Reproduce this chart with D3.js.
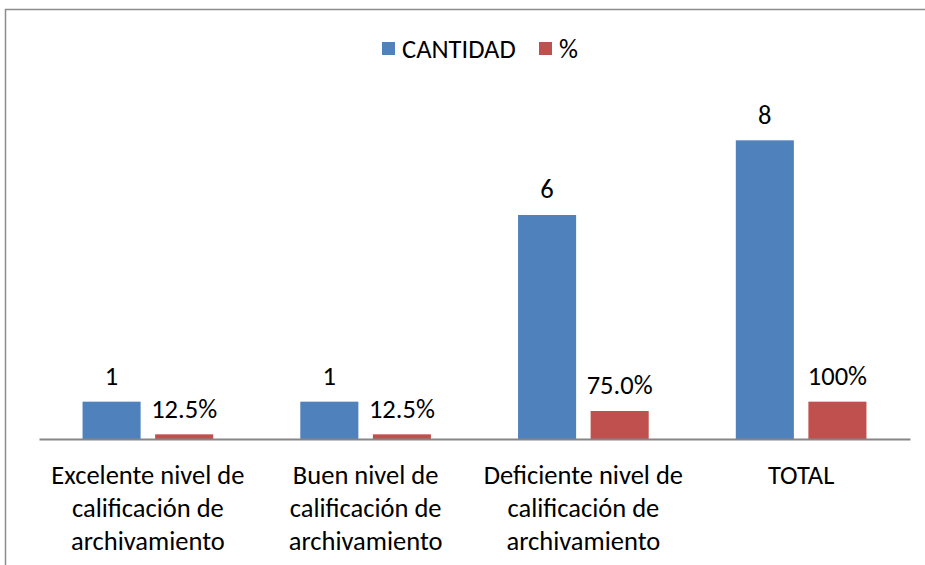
<!DOCTYPE html>
<html><head><meta charset="utf-8">
<script src="https://cdn.jsdelivr.net/npm/d3@7"></script>
<style>body{margin:0;background:#fff}svg{display:block}text{font-family:Carlito,Calibri,Lato,sans-serif;fill:#000}</style>
</head><body>
<script>
const categories = [["Excelente nivel de","calificación de","archivamiento"],["Buen nivel de","calificación de","archivamiento"],["Deficiente nivel de","calificación de","archivamiento"],["TOTAL"]];
const seriesNames = ["CANTIDAD","%"];
const cantidad = [1,1,6,8];
const porcentaje = [0.125,0.125,0.75,1];
const pctLabels = ["12.5%","12.5%","75.0%","100%"];
const colors = ["#4F81BD","#C0504D"];

const W=925,H=565, FS=26.5;
const svg=d3.select("body").append("svg").attr("width",W).attr("height",H);
svg.append("rect").attr("x",5.5).attr("y",9.5).attr("width",W).attr("height",H).attr("fill","none").attr("stroke","#8c8c8c").attr("stroke-width",1.5);

const idx=categories.map((d,i)=>i);
const x=d3.scaleBand().domain(idx).range([39,910]).paddingInner(0.4).paddingOuter(0.2);
const xs=d3.scaleBand().domain(seriesNames).range([0,x.bandwidth()]).paddingInner(0.2);
const y=d3.scaleLinear().domain([0,9]).range([439,103]);

const data=idx.map(i=>[{s:"CANTIDAD",v:cantidad[i],l:String(cantidad[i])},{s:"%",v:porcentaje[i],l:pctLabels[i]}]);
const g=svg.selectAll("g.grp").data(data).join("g").attr("class","grp").attr("transform",(d,i)=>`translate(${x(i)},0)`);
g.selectAll("rect").data(d=>d).join("rect")
 .attr("x",d=>xs(d.s)).attr("width",xs.bandwidth())
 .attr("y",d=>y(d.v)).attr("height",d=>y(0)-y(d.v))
 .attr("fill",(d,j)=>colors[j]);
g.selectAll("text.lbl").data(d=>d).join("text").attr("class","lbl")
 .attr("x",d=>xs(d.s)+xs.bandwidth()/2).attr("y",d=>y(d.v)-26)
 .attr("dy","0.35em").attr("text-anchor","middle").attr("font-size",FS).text(d=>d.l);

const axis=d3.axisBottom(x).tickSize(0).tickFormat("");
const ax=svg.append("g").attr("transform",`translate(0,${y(0)})`).call(axis);
ax.select(".domain").attr("stroke","#868686").attr("stroke-width",2);

const cl=svg.append("g");
categories.forEach((lines,i)=>{
  const t=cl.append("text").attr("text-anchor","middle").attr("font-size",FS);
  lines.forEach((ln,k)=>t.append("tspan").attr("x",x(i)+x.bandwidth()/2).attr("y",475+33*k).attr("dy","0.35em").text(ln));
});

// legend
const lg=svg.append("g");
const lx=[382,539];
seriesNames.forEach((s,j)=>{
  lg.append("rect").attr("x",lx[j]).attr("y",42).attr("width",13).attr("height",13).attr("fill",colors[j]);
  lg.append("text").attr("x",lx[j]+20).attr("y",49).attr("dy","0.35em").attr("font-size",FS).text(s);
});
</script>
</body></html>
